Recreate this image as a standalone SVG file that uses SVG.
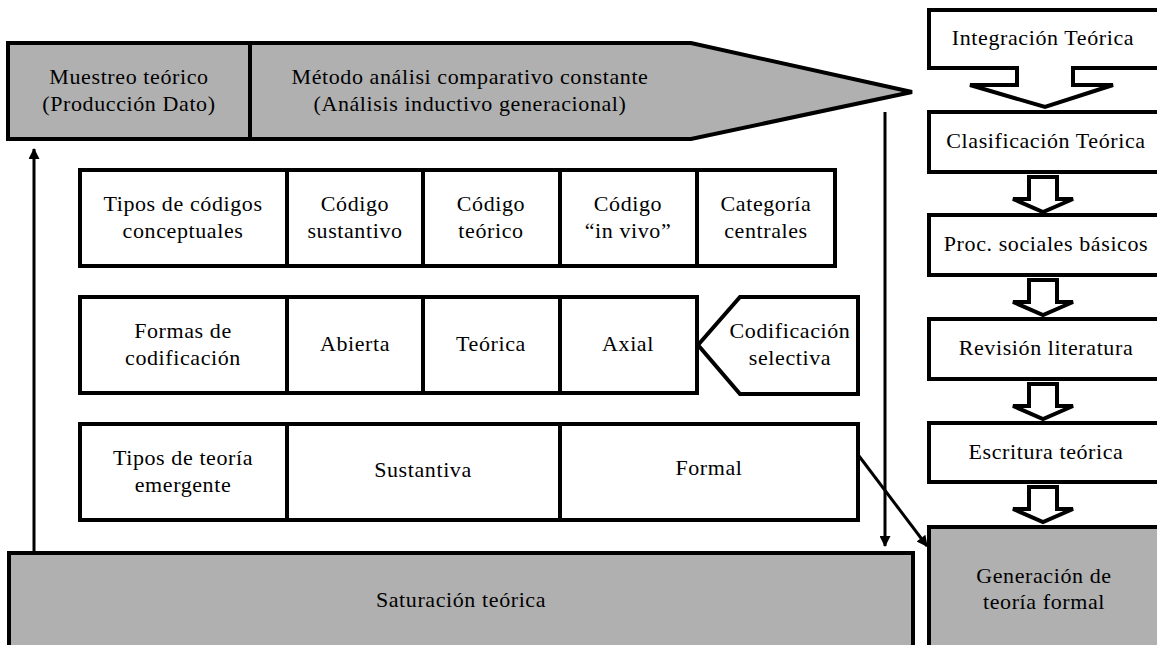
<svg xmlns="http://www.w3.org/2000/svg" width="1157" height="645" viewBox="0 0 1157 645">
<defs>
<style>
.box{fill:#fff;stroke:#000;stroke-width:4}
.gbox{fill:#b0b0b0;stroke:#000;stroke-width:4}
.div{stroke:#000;stroke-width:4}
.t{font-family:"Liberation Serif","Times New Roman",serif;font-size:22px;letter-spacing:0.6px;fill:#000;text-anchor:middle}
.ln{stroke:#000;stroke-width:3;fill:none}
.blk{fill:#fff;stroke:#000;stroke-width:4;stroke-linejoin:miter}
</style>
<marker id="ah" viewBox="0 0 10 10" refX="9" refY="5" markerWidth="13" markerHeight="11" markerUnits="userSpaceOnUse" orient="auto">
<path d="M0,0 L10,5 L0,10 z" fill="#000"/>
</marker>
</defs>
<rect width="1157" height="645" fill="#fff"/>

<g id="banner">
<path class="gbox" d="M8,43 H691 L912,92 L691,139 H8 Z"/>
<line class="div" x1="250" y1="43" x2="250" y2="139"/>
<text class="t" x="129" y="84">Muestreo teórico</text>
<text class="t" x="129" y="111">(Producción Dato)</text>
<text class="t" x="470" y="84">Método análisi comparativo constante</text>
<text class="t" x="470" y="111">(Análisis inductivo generacional)</text>
</g>

<g id="row-codigos">
<rect class="box" x="80" y="170" width="755" height="96"/>
<line class="div" x1="287" y1="170" x2="287" y2="266"/>
<line class="div" x1="423" y1="170" x2="423" y2="266"/>
<line class="div" x1="560" y1="170" x2="560" y2="266"/>
<line class="div" x1="697" y1="170" x2="697" y2="266"/>
<text class="t" x="183" y="211">Tipos de códigos</text>
<text class="t" x="183" y="238">conceptuales</text>
<text class="t" x="355" y="211">Código</text>
<text class="t" x="355" y="238">sustantivo</text>
<text class="t" x="491" y="211">Código</text>
<text class="t" x="491" y="238">teórico</text>
<text class="t" x="628" y="211">Código</text>
<text class="t" x="628" y="238">“in vivo”</text>
<text class="t" x="766" y="211">Categoría</text>
<text class="t" x="766" y="238">centrales</text>
</g>

<g id="row-formas">
<rect class="box" x="80" y="297" width="617" height="96"/>
<line class="div" x1="287" y1="297" x2="287" y2="393"/>
<line class="div" x1="423" y1="297" x2="423" y2="393"/>
<line class="div" x1="560" y1="297" x2="560" y2="393"/>
<text class="t" x="183" y="338">Formas de</text>
<text class="t" x="183" y="365">codificación</text>
<text class="t" x="355" y="351">Abierta</text>
<text class="t" x="491" y="351">Teórica</text>
<text class="t" x="628" y="351">Axial</text>
</g>

<g id="codificacion-selectiva">
<path class="box" d="M698,345 L740,297 H858 V394 H740 Z"/>
<text class="t" x="790" y="338">Codificación</text>
<text class="t" x="790" y="365">selectiva</text>
</g>

<g id="row-teoria">
<rect class="box" x="80" y="424" width="778" height="96"/>
<line class="div" x1="287" y1="424" x2="287" y2="520"/>
<line class="div" x1="560" y1="424" x2="560" y2="520"/>
<text class="t" x="183" y="465">Tipos de teoría</text>
<text class="t" x="183" y="492">emergente</text>
<text class="t" x="423" y="477">Sustantiva</text>
<text class="t" x="709" y="475">Formal</text>
</g>

<g id="saturacion">
<rect class="gbox" x="9" y="553" width="904" height="100"/>
<text class="t" x="461" y="607">Saturación teórica</text>
</g>

<g id="integracion">
<path class="box" d="M929,10 H1162 V68 H1073 V85 H1113 L1045,107 L970,85 H1017 V68 H929 Z"/>
<text class="t" x="1043" y="45">Integración Teórica</text>
</g>

<g id="clasificacion">
<rect class="box" x="929" y="112" width="233" height="60"/>
<text class="t" x="1046" y="148">Clasificación Teórica</text>
</g>

<g id="procesos">
<rect class="box" x="929" y="215" width="233" height="60"/>
<text class="t" x="1046" y="251">Proc. sociales básicos</text>
</g>

<g id="revision">
<rect class="box" x="929" y="319" width="233" height="60"/>
<text class="t" x="1046" y="355">Revisión literatura</text>
</g>

<g id="escritura">
<rect class="box" x="929" y="423" width="233" height="59"/>
<text class="t" x="1046" y="459">Escritura teórica</text>
</g>

<g id="generacion">
<rect class="gbox" x="929" y="527" width="233" height="125"/>
<text class="t" x="1044" y="583">Generación de</text>
<text class="t" x="1044" y="609">teoría formal</text>
</g>

<g id="connectors">
<line class="ln" x1="34" y1="553" x2="34" y2="149" marker-end="url(#ah)"/>
<line class="ln" x1="885" y1="112" x2="885" y2="546" marker-end="url(#ah)"/>
<line class="ln" x1="859" y1="456" x2="927" y2="546" marker-end="url(#ah)"/>
<path class="blk" d="M1029,177 H1057 V199 H1073 L1043,212 L1013,199 H1029 Z"/>
<path class="blk" d="M1029,280 H1057 V302 H1073 L1043,315 L1013,302 H1029 Z"/>
<path class="blk" d="M1029,384 H1057 V406 H1073 L1043,419 L1013,406 H1029 Z"/>
<path class="blk" d="M1029,487 H1057 V509 H1073 L1043,522 L1013,509 H1029 Z"/>
</g>
</svg>
